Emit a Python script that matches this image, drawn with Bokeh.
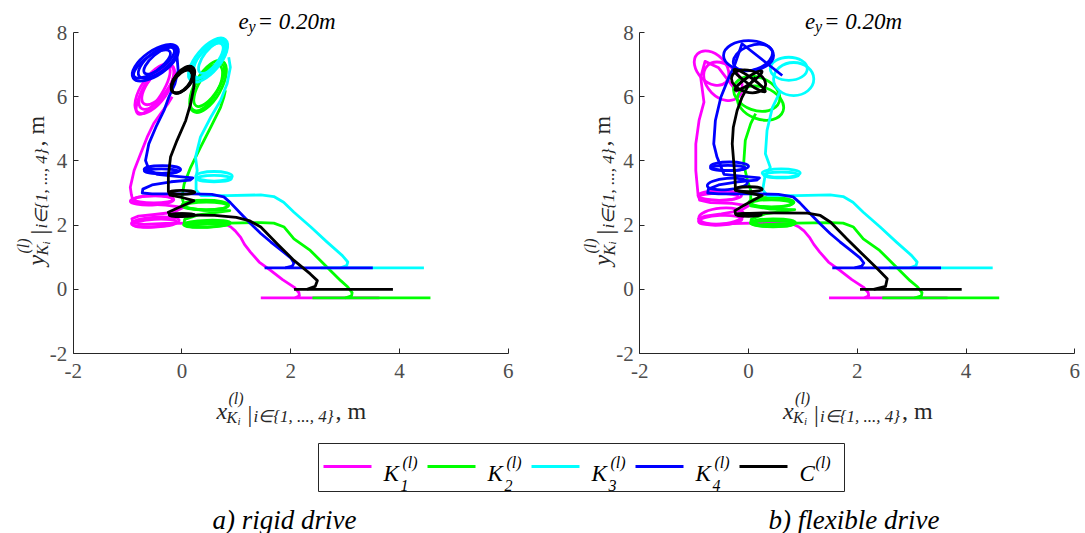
from math import pi

from bokeh.embed import file_html
from bokeh.models import FixedTicker, Label, LinearAxis, Range1d
from bokeh.plotting import figure
from bokeh.resources import INLINE

FONT = "'Liberation Serif', 'Times New Roman', serif"
SERIES = ["K1", "K2", "K3", "K4", "C"]
COLORS = {"K1": "#ff00ff", "K2": "#00ff00", "K3": "#00ffff", "K4": "#0000ff", "C": "#000000"}

X_TICKS = [-2, 0, 2, 4, 6]
Y_TICKS = [-2, 0, 2, 4, 6, 8]
X_LIM = (-2, 6)
Y_LIM = (-2, 8)

# ---------------- a) rigid drive ----------------
# straight approach runs (x extent, constant y)
a_k1_run_x = [1.45, 3.63]; a_k1_run_y = [-0.27, -0.27]
a_k2_run_x = [2.40, 4.57]; a_k2_run_y = [-0.27, -0.27]
a_k3_run_x = [2.55, 4.45]; a_k3_run_y = [0.67, 0.67]
a_k4_run_x = [1.52, 3.51]; a_k4_run_y = [0.67, 0.67]
a_c_run_x = [2.06, 3.88]; a_c_run_y = [0.0, 0.0]

# trajectories
a_k1_x = [2.08, 2.16, 2.15, 2.06, 1.85, 1.63, 1.42, 1.26, 1.15, 1.08, 0.98, 0.90, 0.80, 0.50, 0.10, -0.30,
          -0.70, -0.90, -0.92, -0.80, -0.50, -0.15, 0.02, -0.30, -0.70, -0.90, -0.93, -0.95, -0.88, -0.76,
          -0.64, -0.52, -0.38, -0.25, -0.18]
a_k1_y = [-0.27, -0.20, -0.10, 0.07, 0.30, 0.59, 0.85, 1.16, 1.40, 1.62, 1.82, 1.94, 2.03, 2.06, 2.06, 2.05,
          2.02, 2.07, 2.20, 2.28, 2.33, 2.40, 2.55, 2.62, 2.66, 2.75, 2.95, 3.18, 3.70, 4.22,
          4.74, 5.16, 5.50, 5.80, 6.00]
a_k2_x = [3.00, 3.12, 3.13, 3.05, 2.92, 2.67, 2.36, 2.06, 1.88, 1.69, 1.45, 0.83, 0.22, 0.04, 0.05, 0.30,
          0.88, 0.40, 0.05, 0.00, 0.04, 0.16, 0.34, 0.53, 0.71, 0.77, 0.80]
a_k2_y = [-0.27, -0.20, -0.10, 0.07, 0.27, 0.69, 1.21, 1.57, 1.94, 2.06, 2.08, 2.06, 2.01, 2.05, 2.18, 2.32,
          2.45, 2.46, 2.55, 2.87, 3.28, 3.80, 4.42, 5.05, 5.67, 5.98, 6.20]
a_k3_x = [2.92, 3.03, 3.05, 2.95, 2.67, 2.37, 2.06, 1.87, 1.69, 1.45, 0.83, 0.35, 0.26, 0.26, 0.28, 0.25,
          0.34, 0.53, 0.71, 0.83, 0.89, 0.86]
a_k3_y = [0.67, 0.74, 0.85, 1.05, 1.47, 1.94, 2.40, 2.71, 2.89, 2.94, 2.92, 2.92, 3.10, 3.50, 3.70, 4.12,
          4.74, 5.36, 5.88, 6.40, 6.92, 7.23]
a_k4_x = [1.90, 2.03, 2.06, 2.00, 1.80, 1.63, 1.45, 1.26, 1.08, 0.89, 0.77, 0.55, 0.20, -0.20, -0.55, -0.73,
          -0.72, -0.55, -0.20, 0.15, 0.20, -0.10, -0.45, -0.60, -0.67, -0.61, -0.48, -0.33, -0.24, -0.13,
          -0.07, -0.09, -0.15]
a_k4_y = [0.67, 0.72, 0.82, 0.98, 1.25, 1.48, 1.74, 2.05, 2.36, 2.70, 2.88, 2.96, 2.97, 2.97, 2.97, 3.00,
          3.12, 3.25, 3.35, 3.40, 3.47, 3.52, 3.58, 3.70, 4.01, 4.53, 5.05, 5.57, 5.99, 6.40,
          6.82, 7.23, 7.49]
a_c_x = [2.30, 2.45, 2.49, 2.36, 2.06, 1.75, 1.45, 1.25, 1.00, 0.60, 0.25, -0.22, -0.25, -0.10, 0.22, 0.00,
         -0.22, -0.25, -0.25, -0.21, -0.09, 0.07, 0.16, 0.22, 0.22, 0.15]
a_c_y = [0.00, 0.09, 0.27, 0.48, 0.90, 1.42, 1.94, 2.13, 2.24, 2.30, 2.31, 2.31, 2.40, 2.52, 2.76, 2.86,
         2.93, 3.05, 3.55, 4.12, 4.64, 5.26, 5.78, 6.30, 6.61, 6.82]

# loops: centre, width, height, tilt (deg)
a_k1_loop_x = [-0.49, -0.50, -0.55, -0.52, -0.50, -0.47, -0.44, -0.53]
a_k1_loop_y = [2.10, 2.06, 2.77, 2.80, 6.25, 6.30, 6.35, 6.20]
a_k1_loop_w = [0.88, 0.82, 0.80, 0.72, 1.07, 0.96, 0.85, 1.03]
a_k1_loop_h = [0.30, 0.24, 0.29, 0.22, 0.81, 0.69, 0.62, 0.56]
a_k1_loop_deg = [4, 3, 2, 0, 55, 55, 52, 57]

a_k2_loop_x = [0.46, 0.47, 0.43, 0.45, 0.48, 0.45, 0.50]
a_k2_loop_y = [2.04, 2.02, 2.62, 2.60, 6.32, 6.28, 6.36]
a_k2_loop_w = [0.86, 0.80, 0.86, 0.78, 1.07, 0.95, 0.90]
a_k2_loop_h = [0.22, 0.16, 0.31, 0.24, 0.81, 0.70, 0.60]
a_k2_loop_deg = [2, 2, 0, 0, 60, 60, 58]

a_k3_loop_x = [0.59, 0.59, 0.48, 0.52, 0.45, 0.55]
a_k3_loop_y = [3.52, 3.45, 7.14, 7.18, 7.10, 7.22]
a_k3_loop_w = [0.67, 0.64, 0.99, 0.85, 0.85, 0.70]
a_k3_loop_h = [0.30, 0.20, 0.75, 0.65, 0.55, 0.50]
a_k3_loop_deg = [0, 0, 50, 50, 48, 52]

a_k4_loop_x = [-0.36, -0.38, -0.49, -0.45, -0.55, -0.42]
a_k4_loop_y = [3.73, 3.68, 7.06, 7.08, 7.02, 7.12]
a_k4_loop_w = [0.67, 0.62, 0.99, 0.85, 0.80, 0.70]
a_k4_loop_h = [0.24, 0.14, 0.75, 0.62, 0.50, 0.45]
a_k4_loop_deg = [0, 0, 35, 38, 35, 40]

a_c_loop_x = [0.00, 0.00, 0.00, 0.01, 0.00, 0.02]
a_c_loop_y = [2.31, 2.33, 3.02, 6.50, 6.47, 6.53]
a_c_loop_w = [0.47, 0.45, 0.47, 0.55, 0.50, 0.58]
a_c_loop_h = [0.09, 0.06, 0.12, 0.50, 0.44, 0.52]
a_c_loop_deg = [0, 0, 0, 50, 50, 52]

# ---------------- b) flexible drive ----------------
b_k1_run_x = [1.48, 3.66]; b_k1_run_y = [-0.27, -0.27]
b_k2_run_x = [2.46, 4.61]; b_k2_run_y = [-0.27, -0.27]
b_k3_run_x = [2.58, 4.49]; b_k3_run_y = [0.67, 0.67]
b_k4_run_x = [1.54, 3.54]; b_k4_run_y = [0.67, 0.67]
b_c_run_x = [2.05, 3.92]; b_c_run_y = [0.0, 0.0]

b_k1_x = [2.13, 2.21, 2.20, 2.11, 1.90, 1.68, 1.47, 1.31, 1.20, 1.12, 1.02, 0.93, 0.82, 0.50, 0.10, -0.30,
          -0.70, -0.90, -0.92, -0.80, -0.50, -0.15, 0.00, -0.30, -0.70, -0.90, -0.93, -0.97, -0.97, -0.91,
          -0.82, -0.88, -0.80, -0.55, -0.21]
b_k1_y = [-0.27, -0.20, -0.10, 0.07, 0.30, 0.59, 0.85, 1.16, 1.40, 1.62, 1.82, 1.94, 2.03, 2.06, 2.06, 2.05,
          2.02, 2.07, 2.20, 2.28, 2.35, 2.45, 2.60, 2.68, 2.70, 2.78, 2.97, 3.70, 4.53, 5.26,
          5.83, 6.60, 7.10, 6.90, 6.14]
b_k2_x = [3.05, 3.18, 3.19, 3.11, 2.97, 2.72, 2.41, 2.11, 1.93, 1.74, 1.50, 0.88, 0.22, 0.04, 0.05, 0.30,
          0.85, 0.40, 0.04, 0.04, -0.02, -0.09, -0.06, 0.04, 0.13]
b_k2_y = [-0.27, -0.20, -0.10, 0.07, 0.27, 0.69, 1.21, 1.57, 1.94, 2.06, 2.08, 2.06, 2.01, 2.05, 2.18, 2.35,
          2.48, 2.50, 2.60, 3.08, 3.39, 3.91, 4.64, 5.16, 5.47]
b_k3_x = [2.97, 3.08, 3.10, 3.00, 2.72, 2.42, 2.11, 1.92, 1.74, 1.50, 0.88, 0.35, 0.26, 0.30, 0.40, 0.31,
          0.34, 0.44, 0.59]
b_k3_y = [0.67, 0.74, 0.85, 1.05, 1.47, 1.94, 2.40, 2.71, 2.89, 2.94, 2.92, 2.92, 3.10, 3.50, 3.80, 4.22,
          4.95, 5.67, 6.19]
b_k4_x = [1.95, 2.08, 2.12, 2.05, 1.85, 1.68, 1.50, 1.31, 1.13, 0.94, 0.82, 0.55, 0.20, -0.20, -0.55, -0.75,
          -0.74, -0.55, -0.20, 0.15, 0.20, -0.10, -0.45, -0.58, -0.64, -0.61, -0.51, -0.36, -0.27,
          -0.12, 0.62]
b_k4_y = [0.67, 0.72, 0.82, 0.98, 1.25, 1.48, 1.74, 2.05, 2.36, 2.70, 2.88, 2.96, 2.97, 2.97, 2.97, 3.00,
          3.12, 3.25, 3.35, 3.40, 3.47, 3.52, 3.58, 4.12, 4.53, 5.26, 5.98, 6.61, 6.92,
          7.65, 6.66]
b_c_x = [2.30, 2.52, 2.55, 2.37, 2.12, 1.81, 1.51, 1.32, 1.08, 0.28, -0.24, -0.25, -0.10, 0.25, 0.00, -0.24,
         -0.25, -0.27, -0.30, -0.28, -0.21, -0.12, -0.02, 0.13]
b_c_y = [0.00, 0.09, 0.33, 0.64, 1.05, 1.57, 2.09, 2.30, 2.37, 2.38, 2.35, 2.45, 2.60, 2.92, 3.00, 3.08,
         3.49, 3.91, 4.53, 5.05, 5.57, 5.98, 6.30, 6.61]

b_k1_loop_x = [-0.50, -0.52, -0.53, -0.55, -0.68, -0.47]
b_k1_loop_y = [2.28, 2.15, 2.92, 2.88, 6.89, 6.48]
b_k1_loop_w = [0.83, 0.80, 0.80, 0.72, 0.74, 0.81]
b_k1_loop_h = [0.50, 0.30, 0.30, 0.22, 0.87, 1.00]
b_k1_loop_deg = [5, 3, 0, 0, -45, -45]

b_k2_loop_x = [0.45, 0.45, 0.42, 0.42, 0.15, 0.22]
b_k2_loop_y = [2.07, 2.05, 2.71, 2.68, 6.09, 5.80]
b_k2_loop_w = [0.83, 0.78, 0.83, 0.76, 0.88, 0.88]
b_k2_loop_h = [0.25, 0.18, 0.31, 0.22, 1.03, 1.00]
b_k2_loop_deg = [0, 0, 0, 0, -20, -20]

b_k3_loop_x = [0.60, 0.60, 0.83, 0.74]
b_k3_loop_y = [3.62, 3.56, 6.55, 6.87]
b_k3_loop_w = [0.70, 0.64, 0.74, 0.68]
b_k3_loop_h = [0.26, 0.18, 1.03, 0.72]
b_k3_loop_deg = [0, 0, 0, 0]

b_k4_loop_x = [-0.35, -0.38, -0.39, 0.00, 0.08]
b_k4_loop_y = [3.83, 3.78, 3.28, 7.28, 7.22]
b_k4_loop_w = [0.70, 0.64, 0.74, 0.92, 0.75]
b_k4_loop_h = [0.27, 0.16, 0.35, 0.93, 0.75]
b_k4_loop_deg = [0, 0, 5, 0, 20]

b_c_loop_x = [0.00, 0.00, 0.00, 0.02, 0.00]
b_c_loop_y = [2.32, 3.12, 6.48, 6.50, 6.50]
b_c_loop_w = [0.47, 0.50, 0.64, 0.70, 0.60]
b_c_loop_h = [0.09, 0.15, 0.68, 0.20, 0.20]
b_c_loop_deg = [0, 0, -15, -35, 35]

PANELS = {
    "a": {
        "K1": (a_k1_run_x, a_k1_run_y, a_k1_x, a_k1_y, a_k1_loop_x, a_k1_loop_y, a_k1_loop_w, a_k1_loop_h, a_k1_loop_deg),
        "K2": (a_k2_run_x, a_k2_run_y, a_k2_x, a_k2_y, a_k2_loop_x, a_k2_loop_y, a_k2_loop_w, a_k2_loop_h, a_k2_loop_deg),
        "K3": (a_k3_run_x, a_k3_run_y, a_k3_x, a_k3_y, a_k3_loop_x, a_k3_loop_y, a_k3_loop_w, a_k3_loop_h, a_k3_loop_deg),
        "K4": (a_k4_run_x, a_k4_run_y, a_k4_x, a_k4_y, a_k4_loop_x, a_k4_loop_y, a_k4_loop_w, a_k4_loop_h, a_k4_loop_deg),
        "C": (a_c_run_x, a_c_run_y, a_c_x, a_c_y, a_c_loop_x, a_c_loop_y, a_c_loop_w, a_c_loop_h, a_c_loop_deg),
    },
    "b": {
        "K1": (b_k1_run_x, b_k1_run_y, b_k1_x, b_k1_y, b_k1_loop_x, b_k1_loop_y, b_k1_loop_w, b_k1_loop_h, b_k1_loop_deg),
        "K2": (b_k2_run_x, b_k2_run_y, b_k2_x, b_k2_y, b_k2_loop_x, b_k2_loop_y, b_k2_loop_w, b_k2_loop_h, b_k2_loop_deg),
        "K3": (b_k3_run_x, b_k3_run_y, b_k3_x, b_k3_y, b_k3_loop_x, b_k3_loop_y, b_k3_loop_w, b_k3_loop_h, b_k3_loop_deg),
        "K4": (b_k4_run_x, b_k4_run_y, b_k4_x, b_k4_y, b_k4_loop_x, b_k4_loop_y, b_k4_loop_w, b_k4_loop_h, b_k4_loop_deg),
        "C": (b_c_run_x, b_c_run_y, b_c_x, b_c_y, b_c_loop_x, b_c_loop_y, b_c_loop_w, b_c_loop_h, b_c_loop_deg),
    },
}

# ---------------- page geometry (pixels) ----------------
W, H = 1085, 533
FRAME_LEFT = {"a": 72.7, "b": 639.3}
FRAME_W, FRAME_TOP, FRAME_H = 435.0, 32.0, 321.0
LINE_W = 2.8


def x_range_for(key):
    scale = FRAME_W / (X_LIM[1] - X_LIM[0])
    start = X_LIM[0] - FRAME_LEFT[key] / scale
    return Range1d(start, start + W / scale)


y_scale = FRAME_H / (Y_LIM[1] - Y_LIM[0])
y_top = Y_LIM[1] + FRAME_TOP / y_scale

p = figure(width=W, height=H, output_backend="svg", toolbar_location=None,
           x_range=x_range_for("a"), y_range=Range1d(y_top - H / y_scale, y_top),
           extra_x_ranges={"b": x_range_for("b"), "px": Range1d(0, W)},
           extra_y_ranges={"px": Range1d(H, 0)},
           x_axis_type=None, y_axis_type=None, min_border=0)
p.outline_line_color = None
p.background_fill_color = "white"
p.border_fill_color = "white"

for key, rname in (("a", "default"), ("b", "b")):
    xa = LinearAxis(x_range_name=rname, fixed_location=Y_LIM[0], bounds=X_LIM,
                    ticker=FixedTicker(ticks=X_TICKS))
    ya = LinearAxis(x_range_name=rname, fixed_location=X_LIM[0], bounds=Y_LIM,
                    ticker=FixedTicker(ticks=Y_TICKS))
    for ax, ticks in ((xa, X_TICKS), (ya, Y_TICKS)):
        ax.axis_line_color = "#262626"
        ax.major_tick_line_color = "#262626"
        ax.major_tick_in = 5
        ax.major_tick_out = 0
        ax.minor_tick_line_color = None
        ax.major_label_text_font = FONT
        ax.major_label_text_font_size = "21px"
        ax.major_label_text_color = "#4d4d4d"
        ax.major_label_overrides = {t: f"{t:d}" for t in ticks}
    xa.major_label_standoff = 10
    ya.major_label_standoff = 6
    p.add_layout(xa, "below")
    p.add_layout(ya, "left")

    for name in SERIES:
        rx, ry, px, py, lx, ly, lw, lh, ld = PANELS[key][name]
        col = COLORS[name]
        p.line(rx, ry, line_color=col, line_width=LINE_W, x_range_name=rname)
        p.line(px, py, line_color=col, line_width=LINE_W, line_join="round", x_range_name=rname)
        p.ellipse(x=lx, y=ly, width=lw, height=lh, angle=[d * pi / 180 for d in ld],
                  fill_color=None, line_color=col, line_width=LINE_W, x_range_name=rname)


def put(x, y, text, size, italic=True, angle=0.0, color="#000000"):
    p.add_layout(Label(x=x, y=y, x_units="canvas", y_units="canvas", text=text,
                       text_font=FONT, text_font_size=f"{size}px",
                       text_font_style="italic" if italic else "normal",
                       text_color=color, text_baseline="alphabetic", text_align="left",
                       angle=angle))


def compose(parts, x0, y0, vertical=False, color="#262626"):
    # parts: (advance along the text, raise above the baseline, text, size, italic)
    for d, u, text, size, italic in parts:
        if vertical:
            put(x0 - u, y0 - d, text, size, italic, angle=pi / 2, color=color)
        else:
            put(x0 + d, y0 - u, text, size, italic, color=color)


def axis_label_parts(sym):
    return [
        (0, 0, sym, 24, True),
        (12, 12, "(l)", 16, True),
        (10, -7, "K", 16, True),
        (21, -10, "i", 11, True),
        (31, -3, "|", 24, False),
        (37, -6, "i\u2208{1, ..., 4}", 17, True),
        (119, 0, ", m", 24, False),
    ]


TITLE_PARTS = [
    (0, 0, "e", 23, True),
    (10, -5, "y", 16, True),
    (19, 0, " = 0.20m", 23, True),
]

for key in ("a", "b"):
    shift = FRAME_LEFT[key] - FRAME_LEFT["a"]
    compose(TITLE_PARTS, 238 + shift, 21, color="#000000")
    compose(axis_label_parts("x"), 216 + shift, 410)
    compose(axis_label_parts("y"), 35 + shift, 265, vertical=True)

# legend box
BOX_L, BOX_R, BOX_T, BOX_B = 318, 844, 443, 491
STEP = 104
p.quad(left=[BOX_L], right=[BOX_R], top=[BOX_T], bottom=[BOX_B], fill_color=None,
       line_color="#262626", line_width=1, x_range_name="px", y_range_name="px")
sw_x0 = [BOX_L + 5 + i * STEP for i in range(len(SERIES))]
sw_y = (BOX_T + BOX_B) / 2 - 1
p.segment(x0=sw_x0, x1=[x + 48 for x in sw_x0], y0=[sw_y] * 5, y1=[sw_y] * 5,
          line_color=[COLORS[s] for s in SERIES], line_width=3, x_range_name="px", y_range_name="px")
for i, s in enumerate(SERIES):
    tx = sw_x0[i] + 60
    if s == "C":
        put(tx, sw_y + 7, "C", 23)
        put(tx + 16, sw_y - 4, "(l)", 16)
    else:
        put(tx, sw_y + 7, "K", 23)
        put(tx + 19, sw_y - 4, "(l)", 16)
        put(tx + 17, sw_y + 19, s[1], 16)

put(212, 519, "a) rigid drive", 27)
put(768, 519, "b) flexible drive", 27)

open("out.html", "w").write(file_html(p, INLINE))
